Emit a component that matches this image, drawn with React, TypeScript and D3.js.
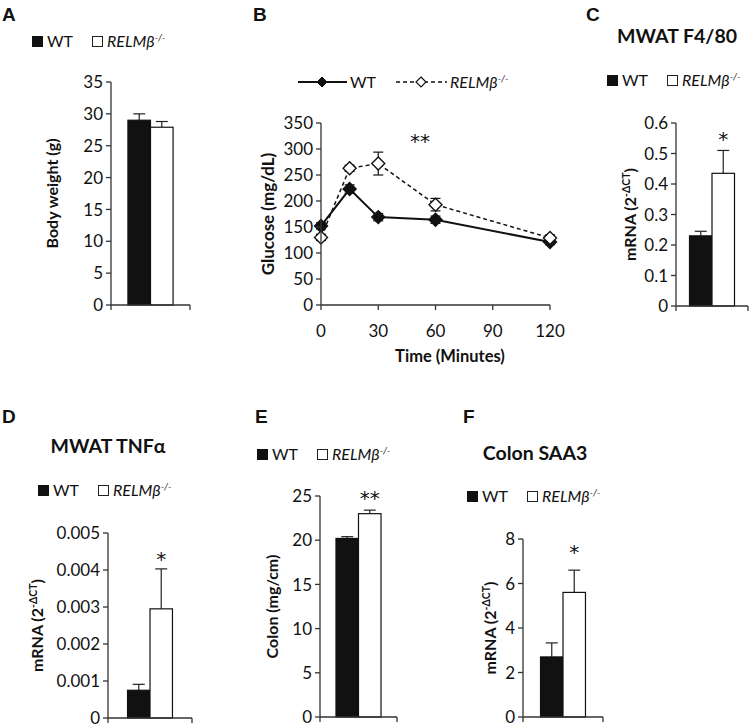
import React from "react";
import * as d3 from "d3";

// ---------- DATA ----------
const groups = ["WT", "RELMβ-/-"];

const bodyWeight = [29.0, 27.9];
const bodyWeightErr = [1.0, 0.9];
const bodyWeightTicks = [0, 5, 10, 15, 20, 25, 30, 35];

const f480 = [0.23, 0.435];
const f480Err = [0.015, 0.075];
const f480Ticks = [0, 0.1, 0.2, 0.3, 0.4, 0.5, 0.6];

const tnfa = [0.00075, 0.00295];
const tnfaErr = [0.00016, 0.00108];
const tnfaTicks = [0, 0.001, 0.002, 0.003, 0.004, 0.005];

const colonWeight = [20.2, 23.0];
const colonWeightErr = [0.2, 0.4];
const colonWeightTicks = [0, 5, 10, 15, 20, 25];

const saa3 = [2.7, 5.6];
const saa3Err = [0.63, 1.0];
const saa3Ticks = [0, 2, 4, 6, 8];

const timePoints = [0, 15, 30, 60, 120];
const timeTicks = [0, 30, 60, 90, 120];
const glucoseWT = [152, 223, 169, 164, 121];
const glucoseWTErr = [6, 8, 7, 7, 5];
const glucoseKO = [130, 263, 272, 193, 129];
const glucoseKOErr = [6, 6, 22, 12, 6];
const glucoseTicks = [0, 50, 100, 150, 200, 250, 300, 350];

// significance marks (for the RELMβ group)
const sigF480 = "*";
const sigTnfa = "*";
const sigColon = "**";
const sigSaa3 = "*";
const sigGlucose = "**";

// ---------- STYLE ----------
const FONT = "Lato, 'Open Sans', sans-serif";
const STAR_FONT = "'DejaVu Sans', sans-serif";
const LETTER_FONT = "'Liberation Sans', Arial, sans-serif";
const AXIS = "#333";
const BAR = "#111";
const TICK_FS = 17;
const LABEL_FS = 16;
const LEGEND_FS = 16;
const TITLE_FS = 19.5;

const fmtTick = (v: number) => (v === 0 ? "0" : d3.format("~g")(v));

function Letter({ x, y, t }: { x: number; y: number; t: string }) {
  return (
    <text x={x} y={y} fontFamily={LETTER_FONT} fontWeight="bold" fontSize={19} fill="#111">
      {t}
    </text>
  );
}

function KOName({ size = LEGEND_FS }: { size?: number }) {
  return (
    <>
      <tspan fontStyle="italic">RELMβ</tspan>
      <tspan fontStyle="italic" fontSize={size * 0.6} dy={-size * 0.4}>
        -/-
      </tspan>
    </>
  );
}

function BarLegend({ x, y }: { x: number; y: number }) {
  return (
    <g fontFamily={FONT} fontSize={LEGEND_FS} fill="#111">
      <rect x={x} y={y - 11} width={11} height={11} fill={BAR} />
      <text x={x + 15} y={y}>WT</text>
      <rect x={x + 60.5} y={y - 10.5} width={10} height={10} fill="#fff" stroke="#222" strokeWidth={1} />
      <text x={x + 75} y={y}>
        <KOName />
      </text>
    </g>
  );
}

function MrnaLabel() {
  return (
    <>
      <tspan>mRNA (2</tspan>
      <tspan fontSize={10.5} dy={-6}>-ΔCT</tspan>
      <tspan dy={6}>)</tspan>
    </>
  );
}

type BarPanelProps = {
  values: number[];
  errs: number[];
  ticks: number[];
  x0: number;
  x1: number;
  yTop: number;
  yBot: number;
  padOuter: number;
  ylabel: React.ReactNode;
  ylabelX: number;
  sig?: string;
  sigGap?: number;
};

function BarPanel(p: BarPanelProps) {
  const yMax = p.ticks[p.ticks.length - 1];
  const y = d3.scaleLinear().domain([0, yMax]).range([p.yBot, p.yTop]);
  const x = d3.scaleBand<string>().domain(groups).range([p.x0, p.x1]).paddingInner(0).paddingOuter(p.padOuter);
  const bw = x.bandwidth();
  const yMid = (p.yTop + p.yBot) / 2;
  return (
    <g>
      {groups.map((g, i) => {
        const v = p.values[i];
        const e = p.errs[i];
        const cx = (x(g) as number) + bw / 2;
        return (
          <g key={g}>
            <line x1={cx} x2={cx} y1={y(v)} y2={y(v + e)} stroke="#222" strokeWidth={1.2} />
            <line x1={cx - 6} x2={cx + 6} y1={y(v + e)} y2={y(v + e)} stroke="#222" strokeWidth={1.2} />
            <rect
              x={x(g)}
              y={y(v)}
              width={bw}
              height={p.yBot - y(v)}
              fill={i === 0 ? BAR : "#fff"}
              stroke={BAR}
              strokeWidth={1.2}
            />
          </g>
        );
      })}
      {p.sig ? (
        <text
          x={(x(groups[1]) as number) + bw / 2}
          y={y(p.values[1] + p.errs[1]) - (p.sigGap ?? 0)}
          textAnchor="middle"
          fontFamily={STAR_FONT}
          fontSize={20}
          fill="#111"
        >
          {p.sig}
        </text>
      ) : null}
      {/* y axis */}
      <line x1={p.x0} x2={p.x0} y1={p.yTop} y2={p.yBot + 5} stroke={AXIS} strokeWidth={1.3} />
      {p.ticks.map((t) => (
        <g key={t}>
          <line x1={p.x0 - 5} x2={p.x0} y1={y(t)} y2={y(t)} stroke={AXIS} strokeWidth={1.3} />
          <text
            x={p.x0 - 8}
            y={y(t)}
            dy="0.36em"
            textAnchor="end"
            fontFamily={FONT}
            fontSize={TICK_FS}
            fill="#111"
          >
            {fmtTick(t)}
          </text>
        </g>
      ))}
      {/* x axis */}
      <line x1={p.x0} x2={p.x1} y1={p.yBot} y2={p.yBot} stroke={AXIS} strokeWidth={1.3} />
      <line x1={p.x1} x2={p.x1} y1={p.yBot} y2={p.yBot + 5} stroke={AXIS} strokeWidth={1.3} />
      <text
        transform={`translate(${p.ylabelX},${yMid}) rotate(-90)`}
        textAnchor="middle"
        dy="0.36em"
        fontFamily={FONT}
        fontWeight="bold"
        fontSize={LABEL_FS}
        fill="#111"
      >
        {p.ylabel}
      </text>
    </g>
  );
}

function diamondPath(cx: number, cy: number, r: number) {
  return `M${cx},${cy - r}L${cx + r},${cy}L${cx},${cy + r}L${cx - r},${cy}Z`;
}

function GlucosePanel() {
  const x0 = 321,
    x1 = 550,
    yTop = 123,
    yBot = 305;
  const x = d3.scaleLinear().domain([0, 120]).range([x0, x1]);
  const y = d3.scaleLinear().domain([0, 350]).range([yBot, yTop]);
  const line = d3
    .line<number>()
    .x((_, i) => x(timePoints[i]))
    .y((d) => y(d));
  const series = [
    { vals: glucoseWT, errs: glucoseWTErr, dash: undefined as string | undefined, fill: BAR, w: 2 },
    { vals: glucoseKO, errs: glucoseKOErr, dash: "4,3", fill: "#fff", w: 1.5 },
  ];
  return (
    <g>
      {series.map((s, si) => (
        <g key={si}>
          <path d={line(s.vals) || ""} fill="none" stroke={BAR} strokeWidth={s.w} strokeDasharray={s.dash} />
          {s.vals.map((v, i) => {
            const cx = x(timePoints[i]);
            const yt = y(v + s.errs[i]);
            const yb = y(v - s.errs[i]);
            return (
              <g key={i} stroke={BAR} strokeWidth={1.2}>
                <line x1={cx} x2={cx} y1={yt} y2={yb} />
                <line x1={cx - 5} x2={cx + 5} y1={yt} y2={yt} />
                <line x1={cx - 5} x2={cx + 5} y1={yb} y2={yb} />
              </g>
            );
          })}
          {s.vals.map((v, i) => (
            <path
              key={"m" + i}
              d={diamondPath(x(timePoints[i]), y(v), 6.5)}
              fill={s.fill}
              stroke={BAR}
              strokeWidth={1.4}
            />
          ))}
        </g>
      ))}
      <text x={420} y={148} textAnchor="middle" fontFamily={STAR_FONT} fontSize={20} fill="#111">
        {sigGlucose}
      </text>
      {/* y axis */}
      <line x1={x0} x2={x0} y1={yTop} y2={yBot} stroke={AXIS} strokeWidth={1.3} />
      {glucoseTicks.map((t) => (
        <g key={t}>
          <line x1={x0 - 5} x2={x0} y1={y(t)} y2={y(t)} stroke={AXIS} strokeWidth={1.3} />
          <text x={x0 - 8} y={y(t)} dy="0.36em" textAnchor="end" fontFamily={FONT} fontSize={TICK_FS} fill="#111">
            {t}
          </text>
        </g>
      ))}
      {/* x axis */}
      <line x1={x0} x2={x1} y1={yBot} y2={yBot} stroke={AXIS} strokeWidth={1.3} />
      {timeTicks.map((t) => (
        <g key={t}>
          <line x1={x(t)} x2={x(t)} y1={yBot} y2={yBot + 5} stroke={AXIS} strokeWidth={1.3} />
          <text x={x(t)} y={337} textAnchor="middle" fontFamily={FONT} fontSize={TICK_FS} fill="#111">
            {t}
          </text>
        </g>
      ))}
      <text x={450} y={362} textAnchor="middle" fontFamily={FONT} fontWeight="bold" fontSize={16.5} fill="#111">
        Time (Minutes)
      </text>
      <text
        transform={`translate(268,${(yTop + yBot) / 2}) rotate(-90)`}
        textAnchor="middle"
        dy="0.36em"
        fontFamily={FONT}
        fontWeight="bold"
        fontSize={17}
        fill="#111"
      >
        Glucose (mg/dL)
      </text>
      {/* legend */}
      <g>
        <line x1={298} x2={347} y1={82} y2={82} stroke={BAR} strokeWidth={2} />
        <path d={diamondPath(322, 82, 5)} fill={BAR} stroke={BAR} strokeWidth={1} />
        <text x={350} y={88} fontFamily={FONT} fontSize={LEGEND_FS} fill="#111">
          WT
        </text>
        <line x1={396} x2={447} y1={82} y2={82} stroke={BAR} strokeWidth={1.3} strokeDasharray="4,3" />
        <path d={diamondPath(421, 82, 5)} fill="#fff" stroke={BAR} strokeWidth={1.2} />
        <text x={450} y={88} fontFamily={FONT} fontSize={LEGEND_FS} fill="#111">
          <KOName />
        </text>
      </g>
    </g>
  );
}

export default function App() {
  return (
    <svg
      width={750}
      height={725}
      viewBox="0 0 750 725"
      style={{ position: "absolute", left: 0, top: 0, background: "#fff" }}
    >
      <rect width={750} height={725} fill="#fff" />
      {/* A */}
      <Letter x={2} y={21} t="A" />
      <BarLegend x={32} y={47} />
      <BarPanel
        values={bodyWeight}
        errs={bodyWeightErr}
        ticks={bodyWeightTicks}
        x0={111}
        x1={190}
        yTop={82}
        yBot={305}
        padOuter={0.75}
        ylabel="Body weight (g)"
        ylabelX={52}
      />
      {/* B */}
      <Letter x={253} y={21} t="B" />
      <GlucosePanel />
      {/* C */}
      <Letter x={586} y={21} t="C" />
      <text x={677} y={43} textAnchor="middle" fontFamily={FONT} fontWeight="bold" fontSize={TITLE_FS} fill="#111">
        MWAT F4/80
      </text>
      <BarLegend x={607} y={86} />
      <BarPanel
        values={f480}
        errs={f480Err}
        ticks={f480Ticks}
        x0={676}
        x1={748}
        yTop={123}
        yBot={306}
        padOuter={0.6}
        ylabel={<MrnaLabel />}
        ylabelX={630}
        sig={sigF480}
        sigGap={4}
      />
      {/* D */}
      <Letter x={2} y={423} t="D" />
      <text x={108} y={453} textAnchor="middle" fontFamily={FONT} fontWeight="bold" fontSize={TITLE_FS} fill="#111">
        MWAT TNFα
      </text>
      <BarLegend x={38} y={496} />
      <BarPanel
        values={tnfa}
        errs={tnfaErr}
        ticks={tnfaTicks}
        x0={108}
        x1={192}
        yTop={533}
        yBot={718}
        padOuter={0.87}
        ylabel={<MrnaLabel />}
        ylabelX={37}
        sig={sigTnfa}
        sigGap={3}
      />
      {/* E */}
      <Letter x={255} y={423} t="E" />
      <BarLegend x={257} y={460} />
      <BarPanel
        values={colonWeight}
        errs={colonWeightErr}
        ticks={colonWeightTicks}
        x0={320}
        x1={397}
        yTop={496}
        yBot={717}
        padOuter={0.71}
        ylabel="Colon (mg/cm)"
        ylabelX={272}
        sig={sigColon}
        sigGap={5}
      />
      {/* F */}
      <Letter x={463} y={423} t="F" />
      <text x={535} y={460} textAnchor="middle" fontFamily={FONT} fontWeight="bold" fontSize={TITLE_FS} fill="#111">
        Colon SAA3
      </text>
      <BarLegend x={467} y={502} />
      <BarPanel
        values={saa3}
        errs={saa3Err}
        ticks={saa3Ticks}
        x0={523}
        x1={603}
        yTop={539}
        yBot={717}
        padOuter={0.78}
        ylabel={<MrnaLabel />}
        ylabelX={490}
        sig={sigSaa3}
        sigGap={11}
      />
    </svg>
  );
}
